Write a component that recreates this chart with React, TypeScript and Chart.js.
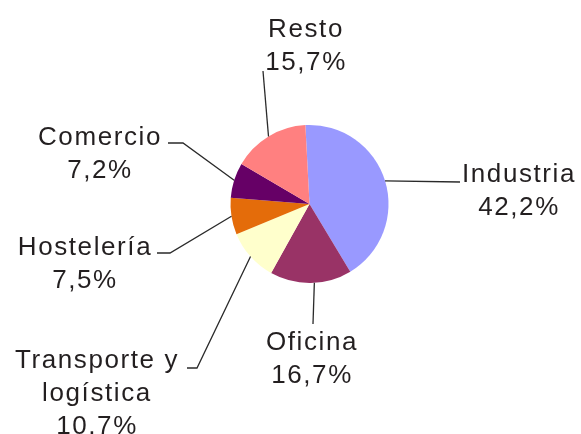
import React, { useEffect, useRef } from 'react';
import { Chart, registerables } from 'chart.js';

Chart.register(...registerables);

// ---- data ----
const categories = ['Industria', 'Oficina', 'Transporte y logística', 'Hostelería', 'Comercio', 'Resto'];
const shares = [42.2, 16.7, 10.7, 7.5, 7.2, 15.7];
const labelNames = [['Industria'], ['Oficina'], ['Transporte y', 'logística'], ['Hostelería'], ['Comercio'], ['Resto']];

// ---- styles ----
const sliceColors = ['#9999FF', '#993366', '#FFFFCC', '#E46C0A', '#660066', '#FF8080'];

// label placement: text centre x, first baseline y, leader-line bend points (from slice edge outward)
const LABEL_LAYOUT = [
  { cx: 519, y: 182, path: [[460, 182]], shift: 0 },
  { cx: 312, y: 350, path: [[313, 324]], shift: -2.5 },
  { cx: 97, y: 368, path: [[197, 368], [187, 368]], shift: 0 },
  { cx: 85, y: 255, path: [[170, 253], [157, 253]], shift: 0 },
  { cx: 100, y: 145, path: [[183, 143], [168, 143]], shift: 0 },
  { cx: 306, y: 37, path: [[263, 71]], shift: 0 },
];
const LINE_HEIGHT = 33;
const FONT = '26px "Liberation Sans", Arial, sans-serif';
const TEXT_COLOR = '#231f20';

const fmt = (v: number) => v.toFixed(1).replace('.', ',') + '%';

const labelPlugin = {
  id: 'leaderLabels',
  afterDraw(chart: any) {
    const ctx = chart.ctx as CanvasRenderingContext2D;
    const meta = chart.getDatasetMeta(0);
    ctx.save();
    meta.data.forEach((arc: any, i: number) => {
      const lay = LABEL_LAYOUT[i];
      const { x, y, startAngle, endAngle, outerRadius } = arc.getProps(['x', 'y', 'startAngle', 'endAngle', 'outerRadius'], true);
      const mid = (startAngle + endAngle) / 2 + (lay.shift * Math.PI) / 180;
      const px = x + Math.cos(mid) * outerRadius;
      const py = y + Math.sin(mid) * outerRadius;
      ctx.beginPath();
      ctx.strokeStyle = '#2a2a2a';
      ctx.lineWidth = 1.3;
      ctx.moveTo(px, py);
      lay.path.forEach(([lx, ly]) => ctx.lineTo(lx, ly));
      ctx.stroke();

      ctx.font = FONT;
      (ctx as any).letterSpacing = '1.6px';
      ctx.fillStyle = TEXT_COLOR;
      ctx.textAlign = 'center';
      ctx.textBaseline = 'alphabetic';
      const lines = [...labelNames[i], fmt(shares[i])];
      lines.forEach((t, k) => ctx.fillText(t, lay.cx, lay.y + k * LINE_HEIGHT));
    });
    ctx.restore();
  },
};

export default function App() {
  const ref = useRef<HTMLCanvasElement | null>(null);
  useEffect(() => {
    document.body.style.margin = '0';
    const canvas = ref.current;
    if (!canvas) return;
    const chart = new Chart(canvas, {
      type: 'pie',
      data: {
        labels: categories,
        datasets: [
          {
            data: shares,
            backgroundColor: sliceColors,
            borderWidth: 0,
            hoverOffset: 0,
            offset: 0,
          },
        ],
      },
      options: {
        responsive: false,
        animation: false,
        rotation: -3,
        layout: { padding: { left: 230, right: 192, top: 125, bottom: 151 } },
        plugins: {
          legend: { display: false },
          tooltip: { enabled: false },
          title: { display: false },
        },
        events: [],
      },
      plugins: [labelPlugin],
    });
    return () => chart.destroy();
  }, []);
  return (
    <div style={{ width: 581, height: 434, background: '#fff' }}>
      <canvas ref={ref} width={581} height={434} style={{ display: 'block' }} />
    </div>
  );
}
